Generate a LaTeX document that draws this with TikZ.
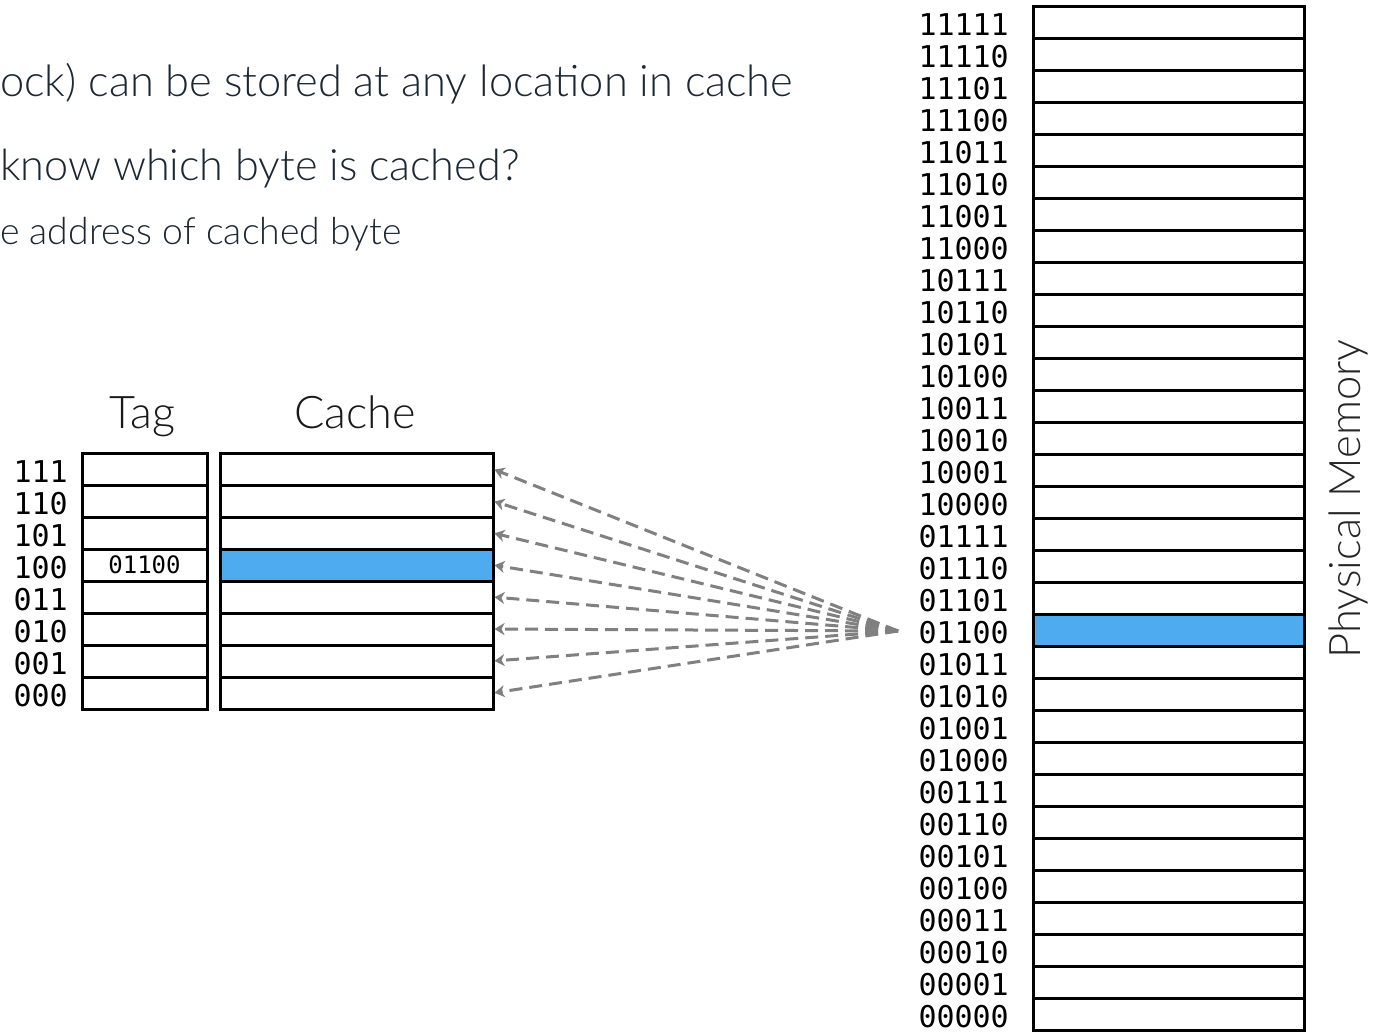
\documentclass[tikz,border=0pt]{standalone}
\usepackage{fontspec}
\setmainfont{Lato Light}
\setmonofont{DejaVu Sans Mono}
\usetikzlibrary{arrows.meta}
\definecolor{hl}{HTML}{4FABEF}
\definecolor{txt}{HTML}{1B2733}
\definecolor{arr}{HTML}{808080}
\begin{document}
\begin{tikzpicture}[x=1pt,y=-1pt,
  cell/.style={draw=black,line width=3pt,minimum width=#1,minimum height=32pt,
    inner sep=0pt,outer sep=0pt,anchor=north west},
  hlcell/.style={cell=#1,fill=hl},
  addr/.style={anchor=east,inner sep=0pt,font=\fontsize{30}{30}\ttfamily},
  title/.style={anchor=base,inner sep=0pt,font=\fontsize{45}{45}\selectfont,text=black!90},
  body/.style={anchor=base west,inner sep=0pt,text=txt},
  conn/.style={draw=arr,line width=3pt,dash pattern=on 13pt off 7pt,
    -{Stealth[inset=3pt,length=10pt,width=12pt]},shorten >=1.5pt}]
\useasboundingbox (0,0) rectangle (1383,1031);
\fill[white] (0,0) rectangle (1383,1031);

% header text
\node[body,font=\fontsize{43.4}{44}\selectfont] (t1) at (0,96) {ock) can be stored at any location in cache};
\node[body,font=\fontsize{43.2}{44}\selectfont] (t2) at (0,180) {know which byte is cached?};
\node[body,font=\fontsize{37.4}{38}\selectfont] (t3) at (0,244) {e address of cached byte};

% physical memory
\foreach \lbl [count=\i from 0] in {11111,11110,11101,11100,11011,11010,11001,11000,
  10111,10110,10101,10100,10011,10010,10001,10000,
  01111,01110,01101,01100,01011,01010,01001,01000,
  00111,00110,00101,00100,00011,00010,00001,00000}{
  \ifnum\i=19
    \node[hlcell=271pt] (m\i) at (1033,6.5+32*\i) {};
  \else
    \node[cell=271pt] (m\i) at (1033,6.5+32*\i) {};
  \fi
  \node[addr] (ml\i) at (1009,6.5+32*\i+18.5) {\lbl};
}
\node[rotate=90,inner sep=0pt,font=\fontsize{43.5}{44}\selectfont,text=black!85] (pm) at (1348,499) {Physical Memory};

% tag and cache
\node[title] (tagt) at (142.5,428) {Tag};
\node[title] (cachet) at (355,428) {Cache};
\foreach \lbl [count=\i from 0] in {111,110,101,100,011,010,001,000}{
  \node[cell=125pt] (tg\i) at (82,453+32*\i) {};
  \ifnum\i=3
    \node[hlcell=273pt] (c\i) at (220,453+32*\i) {};
  \else
    \node[cell=273pt] (c\i) at (220,453+32*\i) {};
  \fi
  \node[addr] (cl\i) at (68,453+32*\i+19) {\lbl};
}
\node[inner sep=0pt,font=\fontsize{24}{24}\ttfamily] (tagv) at (tg3.center) {01100};

% connectors
\coordinate (src) at (898,631);
\foreach \i in {0,...,7}{
  \draw[conn] (src) -- (c\i.east);
}
\end{tikzpicture}
\end{document}
